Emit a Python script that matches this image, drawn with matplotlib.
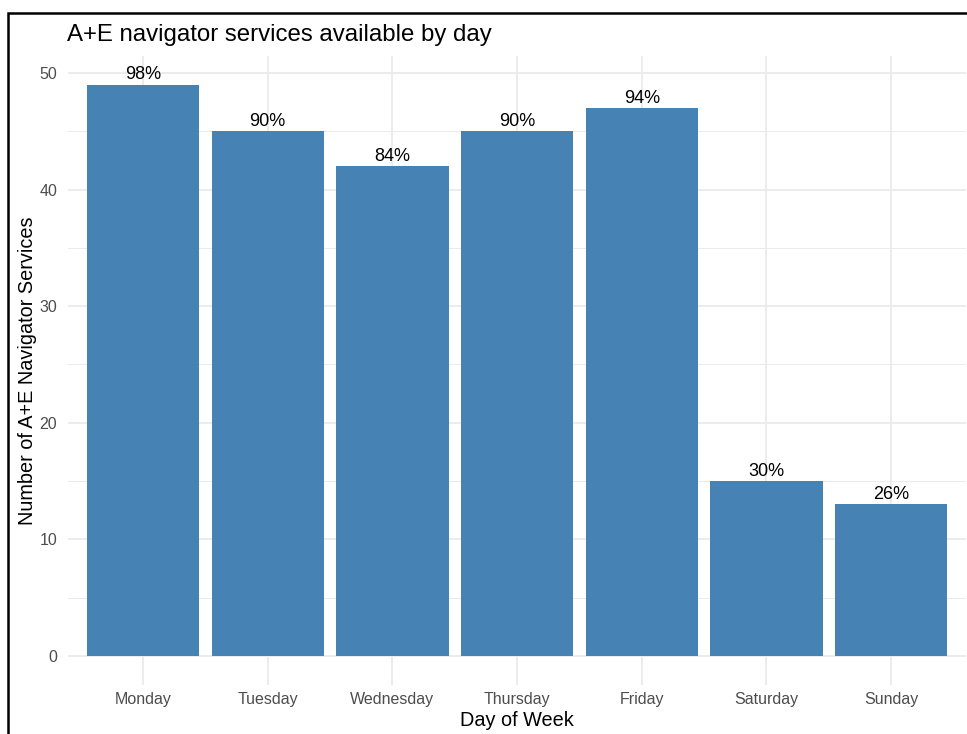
import matplotlib.pyplot as plt
import matplotlib.patches as mpatches

plt.rcParams['font.family'] = ['Liberation Sans', 'DejaVu Sans']

days = ['Monday', 'Tuesday', 'Wednesday', 'Thursday', 'Friday',
        'Saturday', 'Sunday']
counts = [49, 45, 42, 45, 47, 15, 13]
pct_labels = ['98%', '90%', '84%', '90%', '94%', '30%', '26%']

W, H = 967, 734
fig = plt.figure(figsize=(W / 100, H / 100), dpi=100)

# panel placement in pixels
left_px, right_px, top_px, bottom_px = 68.2, 966, 56, 684.6
ax = fig.add_axes([left_px / W, 1 - bottom_px / H,
                   (right_px - left_px) / W, (bottom_px - top_px) / H])

x = list(range(1, len(days) + 1))
ax.bar(x, counts, width=0.9, color='#4682B4', zorder=3)

for xi, yi, lab in zip(x, counts, pct_labels):
    ax.text(xi, yi + 0.45, lab, ha='center', va='baseline', fontsize=13,
            color='black', zorder=4)

ax.set_xlim(0.4, 7.6)
ax.set_ylim(-2.45, 51.45)
ax.set_xticks(x)
ax.set_xticklabels(days)
ax.set_yticks(range(0, 51, 10))
ax.set_yticks(range(5, 50, 10), minor=True)

ax.grid(True, which='major', color='#EBEBEB', linewidth=1.3, zorder=0)
ax.grid(True, which='minor', axis='y', color='#EBEBEB', linewidth=0.7,
        zorder=0)
for s in ax.spines.values():
    s.set_visible(False)
ax.tick_params(which='both', length=0)
ax.tick_params(axis='x', labelsize=11.5, colors='#4D4D4D', pad=5)
ax.tick_params(axis='y', labelsize=11.5, colors='#4D4D4D', pad=8)

ax.set_xlabel('Day of Week', fontsize=14.3, labelpad=3)
ax.set_ylabel('Number of A+E Navigator Services', fontsize=14.3,
              labelpad=1.5)

fig.text(67 / W, 1 - 35 / H, 'A+E navigator services available by day',
         fontsize=17.3, ha='left', va='center')

# screenshot border (top and left)
fig.add_artist(mpatches.Rectangle((8 / W, -0.1), 1.2, 1.1 - 13.5 / H,
                                  transform=fig.transFigure, fill=False,
                                  edgecolor='black', linewidth=1.8))

fig.savefig('out.png', dpi=100)
